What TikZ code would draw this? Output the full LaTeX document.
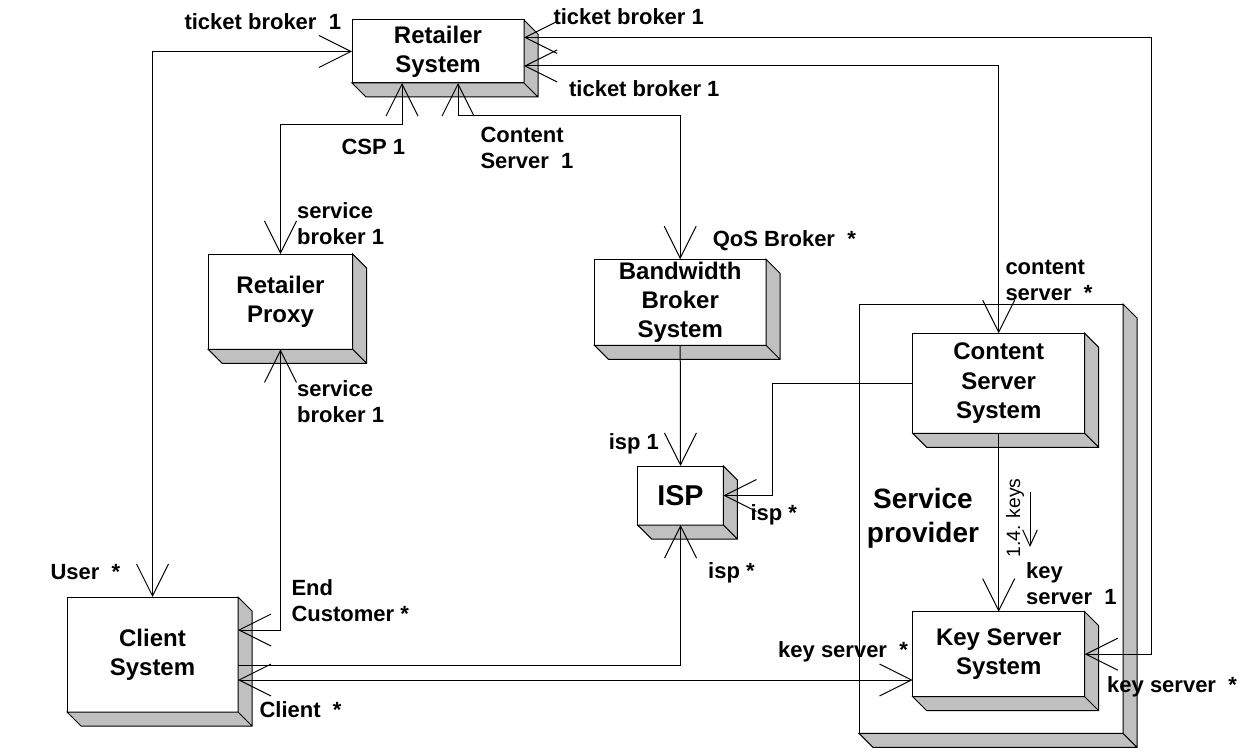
\documentclass[tikz,border=0pt]{standalone}
\usepackage{fontspec}
\setmainfont{Liberation Sans}
\usetikzlibrary{arrows.meta,calc,positioning}
\definecolor{sidegray}{RGB}{192,192,192}

\begin{document}
\begin{tikzpicture}[x=0.75pt,y=-0.75pt,line width=0.75pt,
  >={Straight Barb[length=24pt,width=24pt]},
  dims/.style 2 args={minimum width=#1*0.75pt,minimum height=#2*0.75pt},
  device/.style={draw,fill=white,inner sep=0pt,outer sep=0pt,align=center,
    font=\fontsize{18}{22}\selectfont\bfseries},
  role/.style={anchor=west,inner sep=0pt,align=left,
    font=\fontsize{16.5}{19.5}\selectfont\bfseries}]
  \useasboundingbox (0,0) rectangle (1252,755);

  \node[draw,inner sep=0pt,outer sep=0pt,dims={264}{429.3}] (provider) at (991,518.7) {};
  \node[device,dims={172}{63}] (retailer) at (438,51.5) {Retailer\\System};
  \node[device,dims={144.4}{95.3}] (proxy) at (280.5,301.7) {Retailer\\Proxy};
  \node[device,dims={171.7}{86}] (bbroker) at (680.2,302.3) {Bandwidth\\Broker\\System};
  \node[device,dims={85.6}{59},font=\fontsize{21.5}{26}\selectfont\bfseries] (isp) at (680.5,495.5) {ISP};
  \node[device,dims={171}{115}] (client) at (152.5,654.5) {Client\\System};
  \node[device,dims={172}{100}] (content) at (998.7,383.3) {Content\\Server\\System};
  \node[device,dims={172}{85}] (keysrv) at (998.7,654.2) {Key Server\\System};

  % 3d sides
  \foreach \n in {provider,retailer,proxy,bbroker,isp,client,content,keysrv}
    \draw[fill=sidegray] (\n.north east) -- ++(14,14) -- ($(\n.south east)+(14,14)$)
      -- ($(\n.south west)+(14,14)$) -- (\n.south west) -- (\n.south east) -- cycle
      (\n.south east) -- ++(14,14);

  \node[align=center,font=\fontsize{21}{25.5}\selectfont\bfseries] (sptext) at (923,518) {Service\\provider};

  % associations
  \coordinate (clikey) at ($(client.east)+(0,25.5)$);
  \draw[<->] (client.north) |- (retailer.west);
  \draw[<->] ($(retailer.south)+(-36,0)$) -- ++(0,42) -| (proxy.north);
  \draw[<->] ($(retailer.south)+(20,0)$) -- ++(0,33) -| (bbroker.north);
  \draw[<->] ($(retailer.east)+(0,-14)$) -| ($(keysrv.east)+(67,0)$) -- (keysrv.east);
  \draw[<->] ($(retailer.east)+(0,14.5)$) -| (content.north);
  \draw[<->] (proxy.south) |- ($(client.east)+(0,-24.5)$);
  \draw[->] (bbroker.south) -- (isp.north);
  \draw[->] (content.west) -- ++(-140,0) |- (isp.east);
  \draw[->] ($(client.east)+(0,10.5)$) -| (isp.south);
  \draw[<->] (clikey) -- (clikey -| keysrv.west);
  \draw[->] (content.south) -- (keysrv.north);

  % message
  \coordinate (keysfrom) at (1030,492);
  \coordinate (keysto) at (1030,547);
  \draw[->,>={Straight Barb[length=12pt,width=11pt]}] (keysfrom) -- (keysto);
  \node[rotate=90,font=\fontsize{14.5}{17}\selectfont] (keysmsg) at (1015,518) {1.4. keys};

  % role names
  \node[role] (tbleft) at (184,21.7) {ticket broker\ \ 1};
  \node[role] (tbtop) at (553,16.7) {ticket broker 1};
  \node[role] (tblow) at (568.6,88.3) {ticket broker 1};
  \node[role] (csp) at (341,146.7) {CSP 1};
  \node[role] (csone) at (480,148.3) {Content\\Server\ \ 1};
  \node[role] (sbtop) at (296.7,223.8) {service\\broker 1};
  \node[role] (sblow) at (296.7,401.7) {service\\broker 1};
  \node[role] (qos) at (712.3,240.7) {QoS Broker\ \ *};
  \node[role] (csmany) at (1005,280) {content\\server\ \ *};
  \node[role] (ispone) at (608.3,444) {isp 1};
  \node[role] (ispright) at (750,515) {isp *};
  \node[role] (ispbelow) at (707.7,573.3) {isp *};
  \node[role] (ksone) at (1025.7,583.3) {key\\server\ \ 1};
  \node[role] (ksleft) at (777.7,651.7) {key server\ \ *};
  \node[role] (ksright) at (1106.7,687.3) {key server\ \ *};
  \node[role] (user) at (50,572.3) {User\ \ *};
  \node[role] (endcust) at (291,600.8) {End\\Customer *};
  \node[role] (clientrole) at (259,710) {Client\ \ *};
\end{tikzpicture}
\end{document}
